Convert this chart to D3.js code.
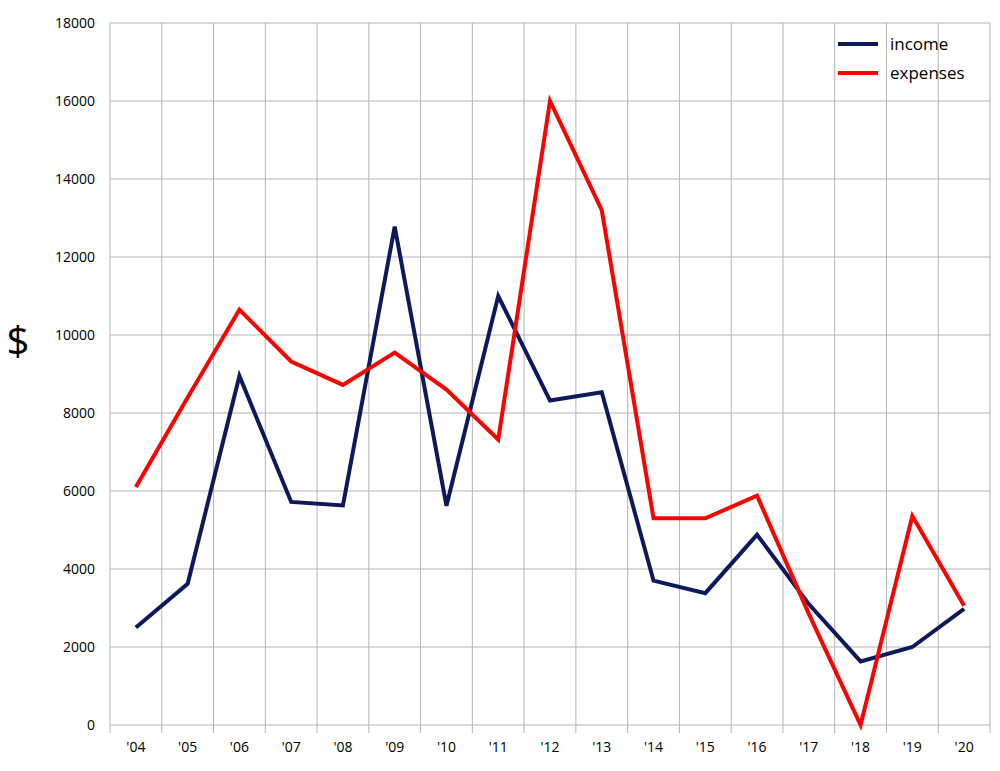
<!DOCTYPE html>
<html><head><meta charset="utf-8">
<script src="https://cdn.jsdelivr.net/npm/d3@7"></script>
<style>body{margin:0;background:#fff}text{font-family:"Open Sans",sans-serif}</style>
</head><body><svg id="c" width="1000" height="771"></svg>
<script>
const years = ["'04","'05","'06","'07","'08","'09","'10","'11","'12","'13","'14","'15","'16","'17","'18","'19","'20"];
const income = [2500,3620,8950,5720,5630,12780,5620,11000,8320,8530,3700,3380,4880,3100,1630,2000,2980];
const expenses = [6100,8400,10650,9320,8720,9550,8600,7320,16000,13200,5300,5300,5880,2850,0,5360,3060];
const yTicks = d3.range(0, 18001, 2000);

const svg = d3.select("#c");
const L = 110, R = 990, T = 23, B = 725;
const x = d3.scaleBand().domain(years).range([L, R]);
const y = d3.scaleLinear().domain([0, 18000]).range([B, T]);

// grid
svg.append("g").selectAll("line").data(yTicks).join("line")
  .attr("x1", L).attr("x2", R).attr("y1", d => y(d)).attr("y2", d => y(d))
  .attr("stroke", "#b3b3b3").attr("stroke-width", 1);
svg.append("g").selectAll("line").data(d3.range(years.length + 1)).join("line")
  .attr("x1", i => L + i * x.step()).attr("x2", i => L + i * x.step())
  .attr("y1", T).attr("y2", B + 8)
  .attr("stroke", "#b3b3b3").attr("stroke-width", 1);

// axis labels
svg.append("g").selectAll("text").data(yTicks).join("text")
  .attr("x", 95).attr("y", d => y(d) + 5).attr("text-anchor", "end")
  .attr("font-size", 14).text(d => d);
svg.append("g").selectAll("text").data(years).join("text")
  .attr("x", d => x(d) + x.bandwidth() / 2).attr("y", 752).attr("text-anchor", "middle")
  .attr("font-size", 14).text(d => d);
svg.append("text").attr("x", 18).attr("y", 355).attr("text-anchor", "middle")
  .attr("font-size", 40).text("$");

const line = d3.line().x((d, i) => x(years[i]) + x.bandwidth() / 2).y(d => y(d));
svg.append("path").datum(income).attr("d", line).attr("fill", "none")
  .attr("stroke", "#0c1a5c").attr("stroke-width", 4).attr("stroke-linejoin", "miter");
svg.append("path").datum(expenses).attr("d", line).attr("fill", "none")
  .attr("stroke", "#ff0000").attr("stroke-width", 4).attr("stroke-linejoin", "miter");

// legend
const leg = [["income", "#0c1a5c"], ["expenses", "#ff0000"]];
const lg = svg.append("g").selectAll("g").data(leg).join("g")
  .attr("transform", (d, i) => `translate(838,${44 + i * 29})`);
lg.append("line").attr("x1", 0).attr("x2", 40).attr("stroke", d => d[1]).attr("stroke-width", 4);
lg.append("text").attr("x", 52).attr("y", 6).attr("font-size", 17).text(d => d[0]);
</script></body></html>
